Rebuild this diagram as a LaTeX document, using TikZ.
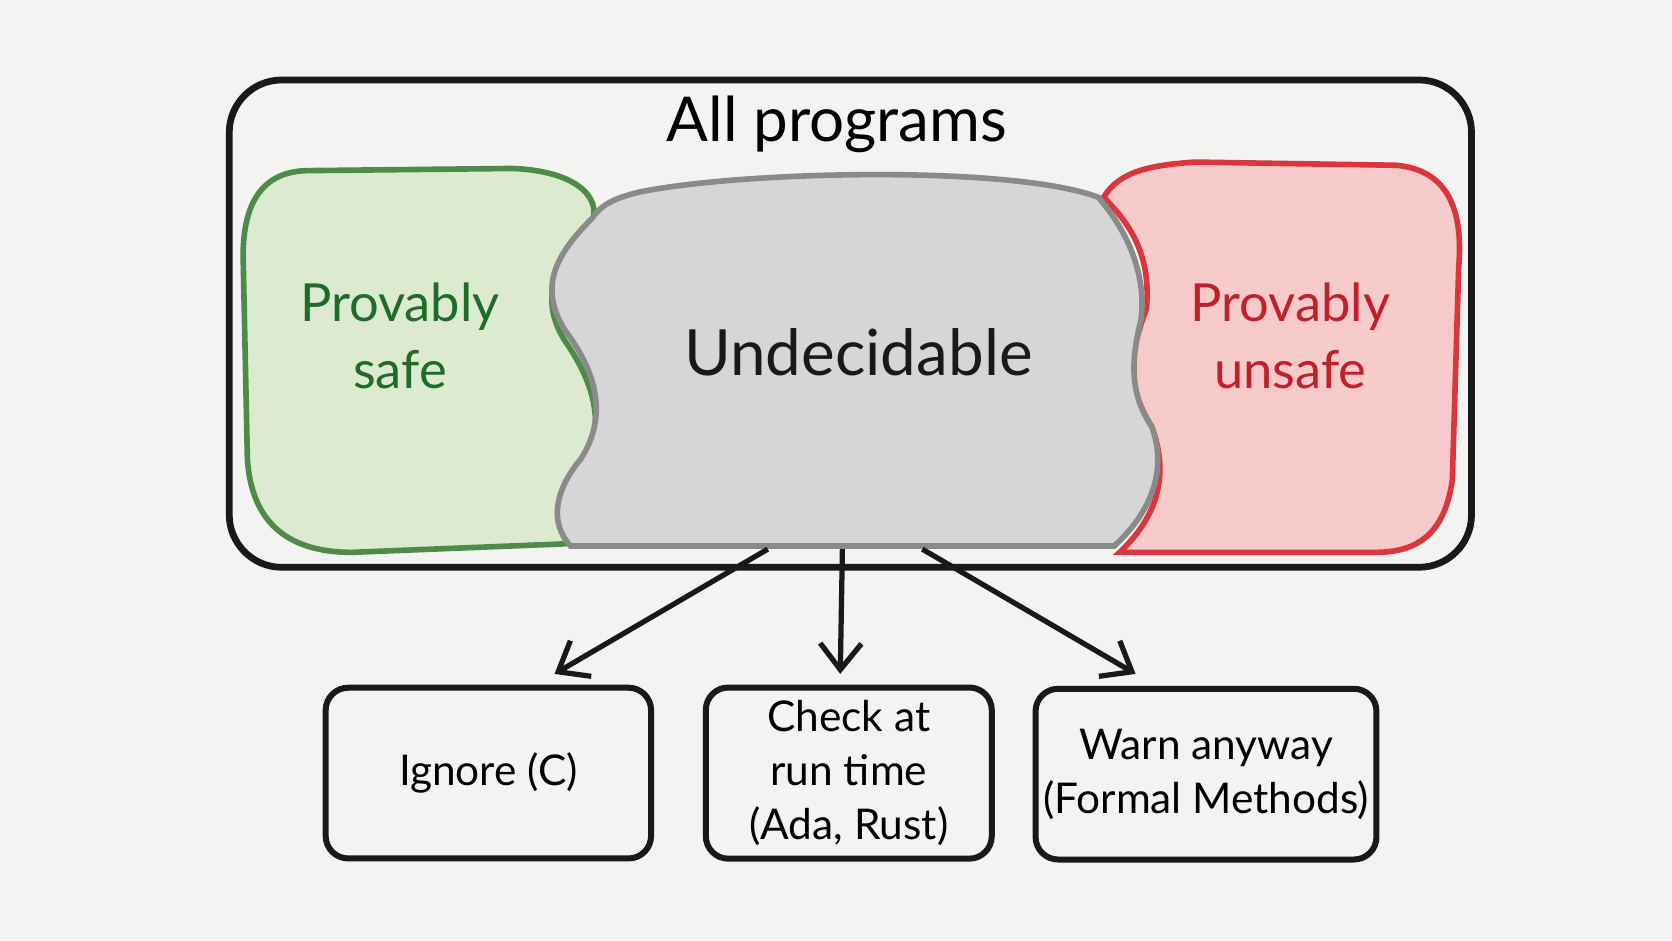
\documentclass[tikz,border=0pt]{standalone}
\usepackage{fontspec}
\setmainfont{Lato}
\usepackage{tikz}
\usetikzlibrary{positioning, arrows.meta}
\definecolor{paper}{RGB}{243,243,241}
\definecolor{safegreen}{RGB}{78,139,72}
\definecolor{safefill}{RGB}{220,235,208}
\definecolor{safetext}{RGB}{30,107,42}
\definecolor{unsafered}{RGB}{217,54,62}
\definecolor{unsafefill}{RGB}{247,202,202}
\definecolor{unsafetext}{RGB}{192,32,42}
\definecolor{midgray}{RGB}{138,138,138}
\definecolor{grayfill}{RGB}{214,214,214}
\definecolor{ink}{RGB}{25,25,25}

\begin{document}
\begin{tikzpicture}[x=0.01cm, y=-0.01cm,
        % Node styles
        region/.style={font=\fontsize{14}{18}\selectfont, align=center},
        choice/.style={draw=ink, line width=1.6pt, rounded corners=6pt, minimum width=3.05cm, minimum height=1.6cm, align=center, font=\fontsize{11.3}{14.5}\selectfont},
        pointer/.style={-{Straight Barb[length=7pt, width=11pt]}, ink, line width=1.4pt}
    ]
    \fill[paper] (0,0) rectangle (1568,882);
    \useasboundingbox (0,0) rectangle (1568,882);

    % Outer set
    \draw[ink, line width=1.8pt, rounded corners=14pt] (215,75) rectangle (1380,532);
    \node[font=\fontsize{16.5}{20}\selectfont] (all) at (785,117) {All programs};

    % Provably safe
    \draw[safegreen, fill=safefill, line width=1.5pt] (290,160) -- (480,158) .. controls (540,160) and (565,185) .. (555,210) .. controls (520,250) and (505,280) .. (530,320) .. controls (565,370) and (565,410) .. (545,445) .. controls (525,480) and (545,505) .. (530,510) -- (330,518) .. controls (260,518) and (235,480) .. (232,430) -- (228,240) .. controls (228,185) and (250,160) .. (290,160) -- cycle;

    % Provably unsafe
    \draw[unsafered, fill=unsafefill, line width=1.5pt] (1035,185) .. controls (1050,160) and (1080,155) .. (1120,152) -- (1310,155) .. controls (1360,160) and (1372,200) .. (1368,250) -- (1362,450) .. controls (1355,500) and (1330,518) .. (1290,518) -- (1050,518) .. controls (1090,480) and (1095,440) .. (1080,400) .. controls (1055,360) and (1060,330) .. (1075,290) .. controls (1080,240) and (1060,210) .. (1035,185) -- cycle;

    % Undecidable
    \draw[midgray, fill=grayfill, line width=1.5pt] (600,180) .. controls (700,160) and (950,155) .. (1030,185) .. controls (1060,220) and (1075,260) .. (1070,300) .. controls (1060,340) and (1060,370) .. (1080,400) .. controls (1095,440) and (1080,480) .. (1045,512) -- (535,512) .. controls (515,490) and (520,460) .. (545,430) .. controls (570,390) and (560,350) .. (530,310) .. controls (505,270) and (520,240) .. (555,205) .. controls (565,190) and (580,185) .. (600,180) -- cycle;

    \node[region, text=safetext] (safe) at (375,315) {Provably\\safe};
    \node[region, text=unsafetext] (unsafe) at (1210,315) {Provably\\unsafe};
    \node[font=\fontsize{17}{21}\selectfont, text=ink] (undec) at (805,330) {Undecidable};

    % Outcomes
    \node[choice] (ignore) at (458,725) {Ignore (C)};
    \node[choice, minimum width=2.68cm] (check) at (796,725) {Check at\\run time\\(Ada, Rust)};
    \node[choice, minimum width=3.13cm, inner xsep=2pt] (warn) at (1131,726) {Warn anyway\\(Formal Methods)};

    \coordinate (outL) at (720,515);
    \coordinate (outM) at (790,515);
    \coordinate (outR) at (865,515);
    \coordinate (tipL) at (520,632);
    \coordinate (tipM) at (788,632);
    \coordinate (tipR) at (1065,632);
    \draw[pointer] (outL) -- (tipL);
    \draw[pointer] (outM) -- (tipM);
    \draw[pointer] (outR) -- (tipR);
\end{tikzpicture}
\end{document}
